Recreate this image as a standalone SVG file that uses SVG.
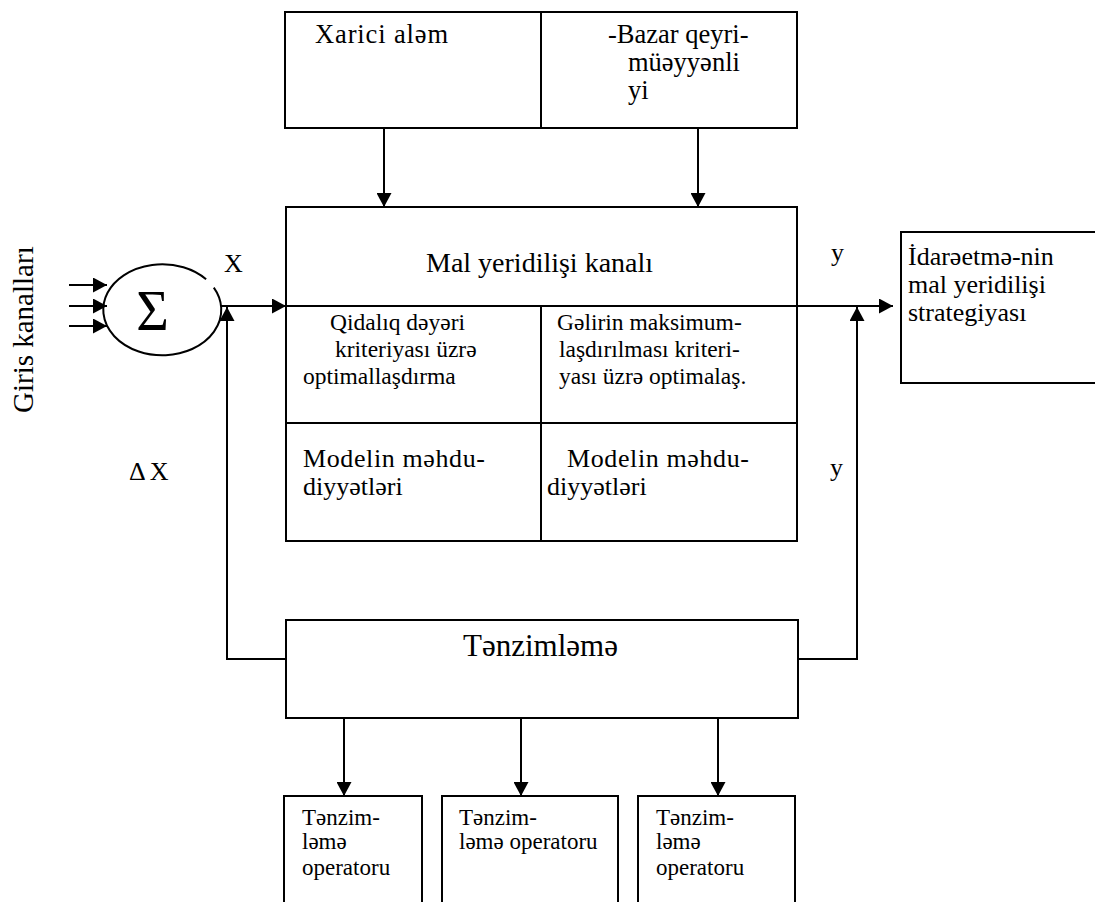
<svg xmlns="http://www.w3.org/2000/svg" width="1095" height="902" viewBox="0 0 1095 902">
<style>
  .box{fill:#fff;stroke:#000;stroke-width:2}
  .ln{fill:none;stroke:#000;stroke-width:2}
  .t{font-family:"Liberation Serif","Times New Roman",serif;fill:#000}
  .big{font-size:28px}
  .top{font-size:26.5px}
  .mid{font-size:26px}
  .sm{font-size:23.5px}
  .xs{font-size:23px}
</style>
<defs>
  <marker id="ah" viewBox="0 0 14 15" refX="14" refY="7.5" markerWidth="14" markerHeight="15" markerUnits="userSpaceOnUse" orient="auto">
    <path d="M0,0 L14,7.5 L0,15 z" fill="#000"/>
  </marker>
</defs>

<g id="label-giris">
  <text class="t" font-size="29" transform="translate(33,413) rotate(-90)">Giris kanalları</text>
</g>

<g id="sum">
  <path class="ln" d="M213.8 287.6 A59 45.5 0 1 1 206.1 279.3"/>
  <text class="t" font-size="56" x="152.5" y="330" text-anchor="middle">Σ</text>
</g>

<g id="labels">
  <text class="t" font-size="26" x="224" y="272">X</text>
  <text class="t" font-size="26" x="129" y="480" letter-spacing="4">ΔX</text>
  <text class="t" font-size="26" x="831" y="261">y</text>
  <text class="t" font-size="26" x="830" y="476">y</text>
</g>

<g id="top-box">
  <rect class="box" x="285" y="12" width="512" height="116"/>
  <line class="ln" x1="541" y1="12" x2="541" y2="128"/>
  <text class="t top" x="315" y="43" textLength="133" lengthAdjust="spacing">Xarici aləm</text>
  <text class="t top" x="608" y="43">-Bazar qeyri-</text>
  <text class="t top" x="628" y="71">müəyyənli</text>
  <text class="t top" x="628" y="99">yi</text>
</g>

<g id="main-box">
  <rect class="box" x="286" y="207" width="511" height="334"/>
  <line class="ln" x1="286" y1="306" x2="797" y2="306"/>
  <line class="ln" x1="286" y1="423" x2="797" y2="423"/>
  <line class="ln" x1="541" y1="306" x2="541" y2="541"/>
  <text class="t big" x="426" y="272">Mal yeridilişi kanalı</text>
  <text class="t sm" x="330" y="330">Qidalıq dəyəri</text>
  <text class="t sm" x="335" y="357">kriteriyası üzrə</text>
  <text class="t sm" x="303" y="384">optimallaşdırma</text>
  <text class="t sm" x="557" y="330">Gəlirin maksimum-</text>
  <text class="t sm" x="559" y="357">laşdırılması kriteri-</text>
  <text class="t sm" x="559" y="384">yası üzrə optimalaş.</text>
  <text class="t mid" x="303" y="467" textLength="182" lengthAdjust="spacing">Modelin məhdu-</text>
  <text class="t mid" x="303" y="495">diyyətləri</text>
  <text class="t mid" x="567" y="467" textLength="182" lengthAdjust="spacing">Modelin məhdu-</text>
  <text class="t mid" x="547" y="495">diyyətləri</text>
</g>

<g id="strategy-box">
  <rect class="box" x="901" y="232" width="200" height="151"/>
  <text class="t mid" x="908" y="265">İdarəetmə-nin</text>
  <text class="t mid" x="908" y="293">mal yeridilişi</text>
  <text class="t mid" x="908" y="321">strategiyası</text>
</g>

<g id="regulation-box">
  <rect class="box" x="286" y="620" width="512" height="98"/>
  <text class="t" font-size="31" x="463" y="656">Tənzimləmə</text>
</g>

<g id="operator-1">
  <rect class="box" x="284" y="796" width="138" height="112"/>
  <text class="t xs" x="302" y="825">Tənzim-</text>
  <text class="t xs" x="302" y="849">ləmə</text>
  <text class="t xs" x="302" y="875">operatoru</text>
</g>
<g id="operator-2">
  <rect class="box" x="442" y="796" width="176" height="112"/>
  <text class="t xs" x="459" y="825">Tənzim-</text>
  <text class="t xs" x="459" y="849">ləmə operatoru</text>
</g>
<g id="operator-3">
  <rect class="box" x="638" y="796" width="157" height="112"/>
  <text class="t xs" x="656" y="825">Tənzim-</text>
  <text class="t xs" x="656" y="849">ləmə</text>
  <text class="t xs" x="656" y="875">operatoru</text>
</g>

<g id="connectors">
  <line class="ln" x1="69" y1="285" x2="107" y2="285" marker-end="url(#ah)"/>
  <line class="ln" x1="69" y1="306" x2="107" y2="306" marker-end="url(#ah)"/>
  <line class="ln" x1="69" y1="326" x2="107" y2="326" marker-end="url(#ah)"/>
  <line class="ln" x1="221" y1="306" x2="286" y2="306" marker-end="url(#ah)"/>
  <line class="ln" x1="797" y1="306" x2="893" y2="306" marker-end="url(#ah)"/>
  <line class="ln" x1="384" y1="128" x2="384" y2="207" marker-end="url(#ah)"/>
  <line class="ln" x1="698" y1="128" x2="698" y2="207" marker-end="url(#ah)"/>
  <path class="ln" d="M286 659 H227 V307" marker-end="url(#ah)"/>
  <path class="ln" d="M798 659 H857 V307" marker-end="url(#ah)"/>
  <line class="ln" x1="344" y1="718" x2="344" y2="796" marker-end="url(#ah)"/>
  <line class="ln" x1="521" y1="718" x2="521" y2="796" marker-end="url(#ah)"/>
  <line class="ln" x1="718" y1="718" x2="718" y2="796" marker-end="url(#ah)"/>
</g>
</svg>
